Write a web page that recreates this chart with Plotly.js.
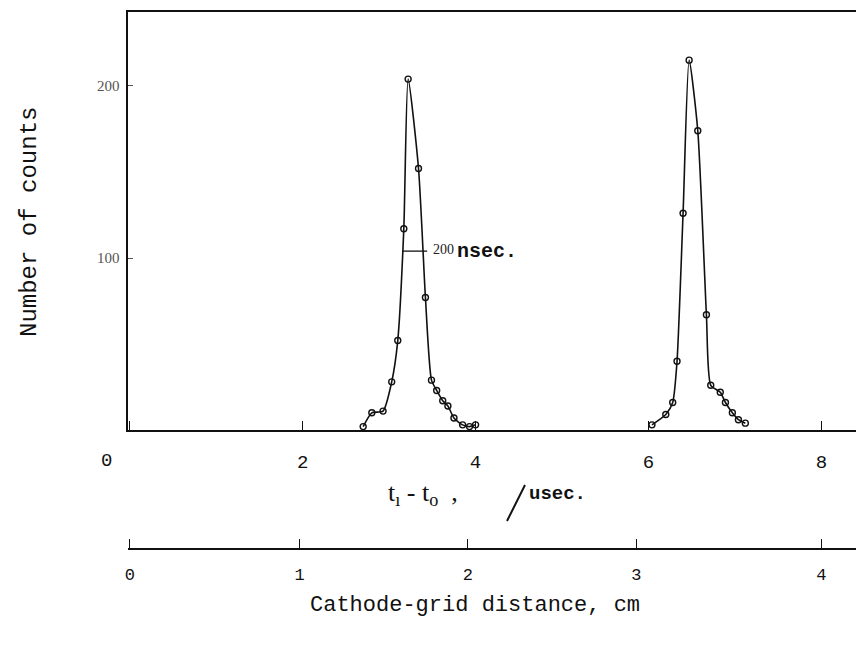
<!DOCTYPE html>
<html><head><meta charset="utf-8">
<script src="https://cdn.plot.ly/plotly-3.0.1.min.js"></script>
<style>html,body{margin:0;padding:0;background:#fff;}</style>
</head><body>
<div id="chart" style="width:856px;height:664px;"></div>
<script>
// Peak 1 (time in µsec, number of counts)
const peak1Time   = [2.70, 2.80, 2.93, 3.03, 3.10, 3.17, 3.22, 3.34, 3.42, 3.49, 3.55, 3.62, 3.68, 3.75, 3.85, 3.93, 4.00];
const peak1Counts = [2, 10, 11, 28, 52, 117, 204, 152, 77, 29, 23, 17, 14, 7, 3, 2, 3];
// Peak 2
const peak2Time   = [6.04, 6.20, 6.28, 6.33, 6.40, 6.47, 6.57, 6.67, 6.72, 6.83, 6.89, 6.97, 7.04, 7.12];
const peak2Counts = [3, 9, 16, 40, 126, 215, 174, 67, 26, 22, 16, 10, 6, 4];
// Axis ticks
const usecTicks = [0, 2, 4, 6, 8];
const usecTickText = ["", "2", "4", "6", "8"];
const countTicks = [100, 200];
const cmTickText = ["0", "1", "2", "3", "4"];
const cmTickUsec = [0, 1.965, 3.91, 5.86, 8.0];

const mono = "Liberation Mono, Courier New, monospace";
const lineStyle = {color: "#111", width: 1.6, shape: "spline", smoothing: 0.6};
const markerStyle = {symbol: "circle-open", size: 6, color: "#111", line: {width: 1.4, color: "#111"}};

const traces = [
  {x: peak1Time, y: peak1Counts, mode: "lines+markers", line: lineStyle, marker: markerStyle, showlegend: false, cliponaxis: false},
  {x: peak2Time, y: peak2Counts, mode: "lines+markers", line: lineStyle, marker: markerStyle, showlegend: false, cliponaxis: false},
  {x: [], y: [], xaxis: "x2", yaxis: "y2", showlegend: false}
];

const px = v => (v - 128) / 728;      // horizontal pixel -> paper
const py = v => (548 - v) / 536;      // vertical pixel -> paper

const xr = [-0.02, 8.40];
const layout = {
  width: 856, height: 664,
  margin: {l: 128, r: 0, t: 12, b: 116},
  paper_bgcolor: "#fff", plot_bgcolor: "#fff",
  showlegend: false,
  xaxis: {
    range: xr, domain: [0, 1], anchor: "y",
    showline: true, mirror: true, linecolor: "#111", linewidth: 1.6,
    showgrid: false, zeroline: false,
    tickvals: usecTicks, ticktext: usecTickText,
    ticks: "inside", ticklen: 9, tickwidth: 1.4, tickcolor: "#111",
    ticklabelstandoff: 14,
    tickfont: {family: mono, size: 19, color: "#111"}
  },
  yaxis: {
    range: [0, 243], domain: [0.2201, 1], anchor: "x",
    showline: true, linecolor: "#111", linewidth: 1.6,
    showgrid: false, zeroline: false,
    tickvals: countTicks,
    ticks: "inside", ticklen: 5, tickwidth: 1, tickcolor: "#555",
    ticklabelstandoff: 4,
    tickfont: {family: "Liberation Serif, serif", size: 15, color: "#555"}
  },
  xaxis2: {
    range: xr, domain: [0, 1], anchor: "y2",
    showline: true, linecolor: "#111", linewidth: 1.6,
    showgrid: false, zeroline: false,
    tickvals: cmTickUsec, ticktext: cmTickText,
    ticks: "inside", ticklen: 9, tickwidth: 1.4, tickcolor: "#111",
    ticklabelstandoff: 10,
    tickfont: {family: mono, size: 17, color: "#111"}
  },
  yaxis2: {range: [0, 1], domain: [0, 0.03], anchor: "x2", visible: false},
  shapes: [
    {type: "line", xref: "x", yref: "y", x0: 3.155, x1: 3.44, y0: 104, y1: 104, line: {color: "#111", width: 1.3}},
    {type: "line", xref: "paper", yref: "paper", x0: px(507), x1: px(525), y0: py(521), y1: py(485), line: {color: "#111", width: 2}}
  ],
  annotations: [
    {text: "0", xref: "paper", yref: "paper", x: px(106), y: py(461), xanchor: "center", yanchor: "middle", showarrow: false, font: {family: mono, size: 19, color: "#111"}},
    {text: "200", xref: "x", yref: "y", x: 3.48, y: 105, xanchor: "left", yanchor: "middle", showarrow: false, font: {family: "Liberation Serif, serif", size: 14, color: "#222"}},
    {text: "<b>nsec.</b>", xref: "x", yref: "y", x: 3.76, y: 104, xanchor: "left", yanchor: "middle", showarrow: false, font: {family: mono, size: 20, color: "#111"}},
    {text: "t<sub>ı</sub> - t<sub>o</sub>  ,", xref: "paper", yref: "paper", x: px(386), y: py(494), xanchor: "left", yanchor: "middle", showarrow: false, font: {family: "Liberation Serif, serif", size: 26, color: "#111"}},
    {text: "<b>usec.</b>", xref: "paper", yref: "paper", x: px(527), y: py(494), xanchor: "left", yanchor: "middle", showarrow: false, font: {family: mono, size: 19, color: "#111"}},
    {text: "Cathode-grid distance, cm", xref: "paper", yref: "paper", x: px(475), y: py(605), xanchor: "center", yanchor: "middle", showarrow: false, font: {family: mono, size: 22, color: "#111"}},
    {text: "Number of counts", xref: "paper", yref: "paper", x: px(30), y: py(222), xanchor: "center", yanchor: "middle", textangle: -90, showarrow: false, font: {family: mono, size: 24, color: "#111"}}
  ]
};

Plotly.newPlot("chart", traces, layout, {displayModeBar: false, staticPlot: true});
</script>
</body></html>
